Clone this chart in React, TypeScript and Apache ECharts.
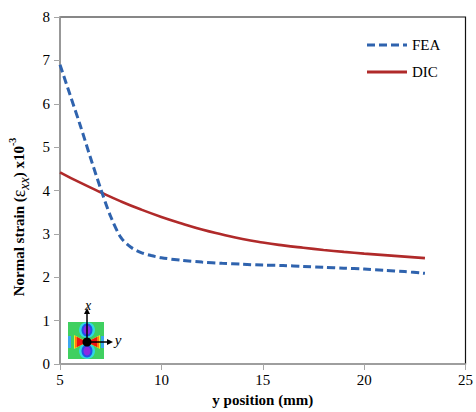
import React, { useEffect, useRef } from "react";
import * as echarts from "echarts";

const FEA: [number, number][] = [
  [5, 6.9], [5.5, 6.2], [6, 5.5], [6.5, 4.76], [7, 4.05], [7.5, 3.4], [8, 2.92],
  [8.5, 2.69], [9, 2.57], [9.5, 2.5], [10, 2.45], [11, 2.39], [12, 2.35], [13, 2.32],
  [14, 2.3], [15, 2.28], [16, 2.27], [17, 2.25], [18, 2.23], [19, 2.21], [20, 2.19],
  [21, 2.16], [22, 2.13], [23, 2.09],
];
const DIC: [number, number][] = [
  [5, 4.42], [6, 4.18], [7, 3.96], [8, 3.75], [9, 3.56], [10, 3.39], [11, 3.24],
  [12, 3.1], [13, 2.985], [14, 2.88], [15, 2.8], [16, 2.735], [17, 2.68], [18, 2.63],
  [19, 2.585], [20, 2.545], [21, 2.51], [22, 2.475], [23, 2.44],
];
const SERIES_NAMES = ["FEA", "DIC"];
const X_TITLE = "y position (mm)";

const FONT = "'Liberation Serif', 'Times New Roman', serif";
const BLUE = "#2f63ae";
const RED = "#b02a2a";

export default function App() {
  const ref = useRef<HTMLDivElement>(null);
  useEffect(() => {
    if (!ref.current) return;
    const chart = echarts.init(ref.current, null, { renderer: "svg" });
    const ix = 68, iy = 322, iw = 36, ih = 37;
    const cx = 87, cy = 342;
    chart.setOption({
      animation: false,
      backgroundColor: "#fff",
      grid: { left: 60, top: 17, right: 7, bottom: 45, show: true, borderColor: "#111", borderWidth: 1.2 },
      xAxis: {
        type: "value", min: 5, max: 25, interval: 5,
        axisLine: { show: true, lineStyle: { color: "#a6a6a6", width: 1.5 } },
        axisTick: { show: true, length: 6, lineStyle: { color: "#a6a6a6" } },
        axisLabel: { color: "#000", fontFamily: FONT, fontSize: 15, margin: 8 },
        splitLine: { show: false },
        name: X_TITLE, nameLocation: "middle", nameGap: 28,
        nameTextStyle: { color: "#000", fontFamily: FONT, fontSize: 15, fontWeight: "bold" },
      },
      yAxis: {
        type: "value", min: 0, max: 8, interval: 1,
        axisLine: { show: true, lineStyle: { color: "#a6a6a6", width: 1.5 } },
        axisTick: { show: true, length: 6, lineStyle: { color: "#a6a6a6" } },
        axisLabel: { color: "#000", fontFamily: FONT, fontSize: 15, margin: 10 },
        splitLine: { show: false },
      },
      series: [
        {
          name: SERIES_NAMES[0], type: "line", data: FEA, smooth: 0.3, showSymbol: false, z: 3,
          lineStyle: { color: BLUE, width: 3, type: [8, 4] },
        },
        {
          name: SERIES_NAMES[1], type: "line", data: DIC, smooth: 0.5, showSymbol: false, z: 2,
          lineStyle: { color: RED, width: 2.6 },
        },
      ],
      graphic: [
        // legend
        { type: "line", shape: { x1: 367, y1: 45, x2: 407, y2: 45 }, style: { stroke: BLUE, lineWidth: 3, lineDash: [8, 4] } },
        { type: "text", x: 412, y: 45, style: { text: SERIES_NAMES[0], font: `15px ${FONT}`, fill: "#000", textVerticalAlign: "middle" } },
        { type: "line", shape: { x1: 367, y1: 72, x2: 407, y2: 72 }, style: { stroke: RED, lineWidth: 3 } },
        { type: "text", x: 412, y: 72, style: { text: SERIES_NAMES[1], font: `15px ${FONT}`, fill: "#000", textVerticalAlign: "middle" } },
        // y axis title
        {
          type: "text", x: 19, y: 217, rotation: Math.PI / 2,
          style: {
            text: "{b|Normal strain (}{e|ε}{s|xx}{b|) x10}{p|-3}",
            align: "center", verticalAlign: "middle", fill: "#000",
            rich: {
              b: { fontFamily: FONT, fontSize: 15, fontWeight: "bold", lineHeight: 24, fill: "#000" },
              e: { fontFamily: FONT, fontSize: 18, lineHeight: 24, fill: "#000" },
              s: { fontFamily: FONT, fontSize: 14, fontStyle: "italic", lineHeight: 16, verticalAlign: "bottom", fill: "#000" },
              p: { fontFamily: FONT, fontSize: 10, fontWeight: "bold", lineHeight: 14, verticalAlign: "top", fill: "#000" },
            },
          },
        },
        // inset
        {
          type: "group", z: 10,
          children: [
            { type: "rect", shape: { x: ix, y: iy, width: iw, height: ih }, style: { fill: "#3fd060" } },
            { type: "rect", shape: { x: ix, y: cy - 6, width: 3, height: 12 }, style: { fill: "#3aa8f0" } },
            { type: "rect", shape: { x: ix + iw - 3, y: cy - 6, width: 3, height: 12 }, style: { fill: "#3aa8f0" } },
            { type: "ellipse", shape: { cx: cx, cy: iy + 8, rx: 8, ry: 8 }, style: { fill: "#30d8e0" } },
            { type: "ellipse", shape: { cx: cx, cy: iy + ih - 8, rx: 8, ry: 8 }, style: { fill: "#30d8e0" } },
            { type: "ellipse", shape: { cx: cx, cy: iy + 8, rx: 5.5, ry: 6.5 }, style: { fill: "#2050e8" } },
            { type: "ellipse", shape: { cx: cx, cy: iy + ih - 8, rx: 5.5, ry: 6.5 }, style: { fill: "#2050e8" } },
            { type: "ellipse", shape: { cx: cx, cy: iy + 8, rx: 3.5, ry: 4.5 }, style: { fill: "#8a2be2" } },
            { type: "ellipse", shape: { cx: cx, cy: iy + ih - 8, rx: 3.5, ry: 4.5 }, style: { fill: "#8a2be2" } },
            { type: "polygon", shape: { points: [[cx, cy], [cx - 13, cy - 7], [cx - 13, cy + 7]] }, style: { fill: "#f5e82a" } },
            { type: "polygon", shape: { points: [[cx, cy], [cx + 13, cy - 7], [cx + 13, cy + 7]] }, style: { fill: "#f5e82a" } },
            { type: "polygon", shape: { points: [[cx, cy], [cx - 12, cy - 6], [cx - 12, cy + 6]] }, style: { fill: "#ff7a10" } },
            { type: "polygon", shape: { points: [[cx, cy], [cx + 12, cy - 6], [cx + 12, cy + 6]] }, style: { fill: "#ff7a10" } },
            { type: "polygon", shape: { points: [[cx, cy], [cx - 10, cy - 5], [cx - 10, cy + 5]] }, style: { fill: "#ee1111" } },
            { type: "polygon", shape: { points: [[cx, cy], [cx + 10, cy - 5], [cx + 10, cy + 5]] }, style: { fill: "#ee1111" } },
            { type: "circle", shape: { cx: cx, cy: cy, r: 4.5 }, style: { fill: "#000" } },
            { type: "line", shape: { x1: cx, y1: cy, x2: cx, y2: 311 }, style: { stroke: "#000", lineWidth: 1.5 } },
            { type: "polygon", shape: { points: [[cx, 308], [cx - 3, 314], [cx + 3, 314]] }, style: { fill: "#000" } },
            { type: "line", shape: { x1: cx, y1: cy, x2: 110, y2: cy }, style: { stroke: "#000", lineWidth: 1.5 } },
            { type: "polygon", shape: { points: [[113, cy], [107, cy - 3], [107, cy + 3]] }, style: { fill: "#000" } },
            { type: "text", x: 88, y: 305, style: { text: "x", font: `italic 14px ${FONT}`, fill: "#000", align: "center", verticalAlign: "middle" } },
            { type: "text", x: 118, y: 340, style: { text: "y", font: `italic 15px ${FONT}`, fill: "#000", align: "center", verticalAlign: "middle" } },
          ],
        },
      ],
    });
    return () => chart.dispose();
  }, []);
  return <div ref={ref} style={{ width: 476, height: 412, position: "absolute", left: 0, top: 0 }} />;
}
